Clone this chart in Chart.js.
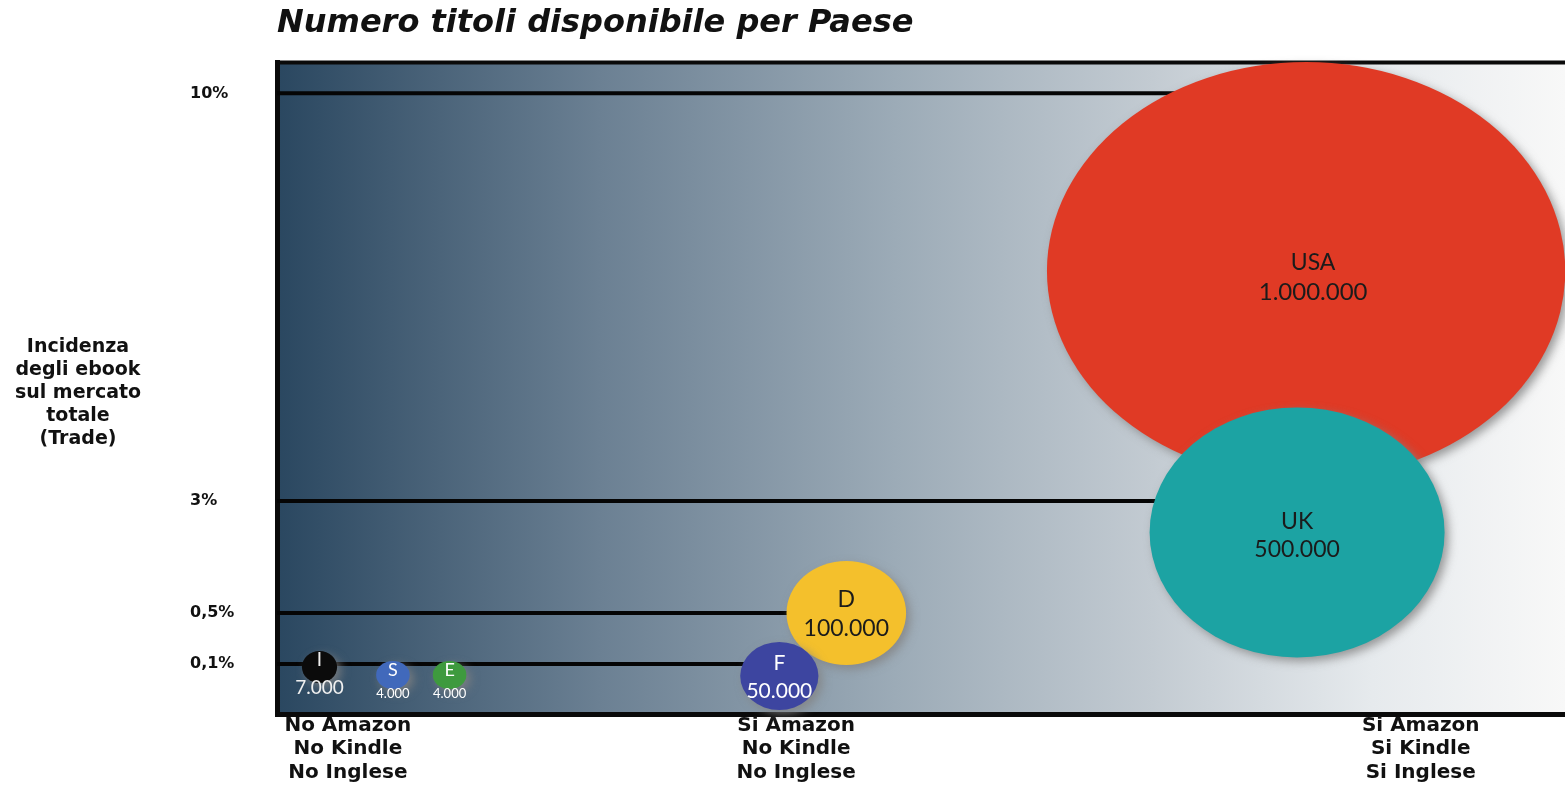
<!DOCTYPE html>
<html lang="it">
<head>
<meta charset="utf-8">
<title>Numero titoli disponibile per Paese</title>
<script src="https://cdn.jsdelivr.net/npm/chart.js"></script>
<style>
  html, body { margin: 0; padding: 0; background: #fff; }
  #wrap { width: 1565px; height: 792px; position: relative; }
</style>
</head>
<body>
<div id="wrap"><canvas id="titoliChart"></canvas></div>
<script>
// Paesi e numero di titoli ebook disponibili
const paesi = ['USA', 'UK', 'D', 'F', 'I', 'S', 'E'];
const titoli = [1000000, 500000, 100000, 50000, 7000, 4000, 4000];
// posizione sull'asse "Amazon / Kindle / Inglese" (0-100)
const accesso = [79.9, 79.2, 44.2, 39.0, 3.3, 9.0, 13.4];
// incidenza degli ebook sul mercato totale (%)
const incidenza = [6.95, 2.3, 0.5, 0.076, 0.094, 0.078, 0.078];
// dimensione della bolla
const dimensione = [209, 125, 52, 34, 16, 14, 14];
const colori = ['#e03a25', '#1ca3a3', '#f4c02c', '#3d45a0', '#0b0b0b', '#4169bb', '#3e9a3e'];

// asse y
const yTickValues = [0.1, 0.5, 3, 10];
const yTickLabels = ['0,1%', '0,5%', '3%', '10%'];
// linee di riferimento: livello -> paese
const livelli = [10, 3, 0.5, 0.1];
const livelloPaese = ['USA', 'UK', 'D', 'F'];

// asse x
const xTickValues = [5.5, 40.3, 88.8];
const xTickLabels = [
  ['No Amazon', 'No Kindle', 'No Inglese'],
  ['Si Amazon', 'No Kindle', 'No Inglese'],
  ['Si Amazon', 'Si Kindle', 'Si Inglese']
];

const yTitle = ['Incidenza', 'degli ebook', 'sul mercato', 'totale', '(Trade)'];

// scala verticale a tratti (il grafico originale non e' lineare)
const Y_BREAKS = [[0, 0], [0.1, 0.0767], [0.5, 0.1549], [3, 0.3267], [10, 0.9525], [10.5, 1]];

class PiecewiseScale extends Chart.LinearScale {
  static id = 'piecewise';
  static defaults = Chart.LinearScale.defaults;

  toDecimal(value) {
    const b = Y_BREAKS;
    if (value <= b[0][0]) return b[0][1];
    for (let i = 1; i < b.length; i++) {
      if (value <= b[i][0]) {
        const [v0, d0] = b[i - 1], [v1, d1] = b[i];
        return d0 + (value - v0) / (v1 - v0) * (d1 - d0);
      }
    }
    return b[b.length - 1][1];
  }

  getPixelForValue(value) {
    return value === null ? NaN : this.getPixelForDecimal(this.toDecimal(value));
  }

  getValueForPixel(pixel) {
    const dec = this.getDecimalForPixel(pixel);
    const b = Y_BREAKS;
    for (let i = 1; i < b.length; i++) {
      if (dec <= b[i][1]) {
        const [v0, d0] = b[i - 1], [v1, d1] = b[i];
        return v0 + (dec - d0) / (d1 - d0) * (v1 - v0);
      }
    }
    return b[b.length - 1][0];
  }
}
Chart.register(PiecewiseScale);

function formatNum(n) {
  return String(n).replace(/\B(?=(\d{3})+(?!\d))/g, '.');
}

// stile delle etichette nelle bolle
const labelStyle = {
  nameSize: [23, 23, 23, 21, 19, 18, 18],
  numSize:  [24, 23, 23, 21, 19, 13, 13],
  nameDy:   [-8, -11, -13, -13, -7, -5, -5],
  numDy:    [21, 17, 16, 15, 21, 19, 19],
  dx:       [7, 0, 0, 0, 0, 0, 0],
  color:    ['#1b1b1b', '#1b1b1b', '#1b1b1b', '#ffffff', '#f0f0f0', '#ffffff', '#ffffff'],
  aspect:   [1.24, 1.18, 1.15, 1.15, 1.1, 1.2, 1.2]
};

const sfondoPlugin = {
  id: 'sfondo',
  beforeDraw(chart) {
    const { ctx, chartArea: a } = chart;
    const g = ctx.createLinearGradient(a.left, 0, a.right, 0);
    g.addColorStop(0, '#2a4760');
    g.addColorStop(0.25, '#6b8093');
    g.addColorStop(0.48, '#9cabb7');
    g.addColorStop(0.68, '#c3cbd2');
    g.addColorStop(0.85, '#e6eaed');
    g.addColorStop(1, '#f8f8f8');
    ctx.save();
    ctx.fillStyle = g;
    ctx.fillRect(a.left, a.top, a.right - a.left, a.bottom - a.top);
    ctx.strokeStyle = '#0a0a0a';
    ctx.lineWidth = 4;
    ctx.beginPath();
    ctx.moveTo(a.left - 2, a.top);
    ctx.lineTo(a.right, a.top);
    ctx.stroke();
    ctx.restore();
  }
};

const bollePlugin = {
  id: 'bolle',
  beforeDatasetDraw(chart, args) {
    if (args.meta.type !== 'bubble') return;
    const ctx = chart.ctx;
    const els = args.meta.data;
    ctx.save();
    els.forEach((el, i) => {
      const r = el.options.radius;
      ctx.save();
      ctx.shadowColor = 'rgba(130,130,130,0.8)';
      ctx.shadowBlur = 10;
      ctx.shadowOffsetX = 4;
      ctx.shadowOffsetY = 4;
      ctx.fillStyle = el.options.backgroundColor;
      ctx.beginPath();
      ctx.ellipse(el.x, el.y, r * labelStyle.aspect[i], r, 0, 0, Math.PI * 2);
      ctx.fill();
      ctx.restore();
    });
    ctx.textAlign = 'center';
    ctx.textBaseline = 'middle';
    els.forEach((el, i) => {
      ctx.fillStyle = labelStyle.color[i];
      const x = el.x + labelStyle.dx[i];
      ctx.font = labelStyle.nameSize[i] + 'px Lato';
      ctx.fillText(paesi[i], x, el.y + labelStyle.nameDy[i]);
      ctx.font = labelStyle.numSize[i] + 'px Lato';
      ctx.fillText(formatNum(titoli[i]), x, el.y + labelStyle.numDy[i]);
    });
    ctx.restore();
    return false;
  }
};

const titoloAssePlugin = {
  id: 'titoloAsse',
  afterDraw(chart) {
    const ctx = chart.ctx;
    ctx.save();
    ctx.fillStyle = '#111';
    ctx.font = 'bold 19px "DejaVu Sans"';
    ctx.textAlign = 'center';
    ctx.textBaseline = 'middle';
    yTitle.forEach((t, i) => ctx.fillText(t, 78, 347 + i * 23));
    ctx.restore();
  }
};

const bubbleData = paesi.map((p, i) => ({ x: accesso[i], y: incidenza[i], r: dimensione[i] }));

const lineDatasets = livelli.map((lv, i) => {
  const k = paesi.indexOf(livelloPaese[i]);
  return {
    type: 'line',
    label: 'livello ' + lv,
    data: [{ x: 0, y: lv }, { x: accesso[k], y: lv }],
    borderColor: '#050505',
    borderWidth: 4,
    pointRadius: 0,
    order: 1
  };
});

const ctx = document.getElementById('titoliChart').getContext('2d');
new Chart(ctx, {
  type: 'bubble',
  data: {
    datasets: [
      {
        label: 'Titoli',
        data: bubbleData,
        backgroundColor: colori,
        borderWidth: 0,
        clip: false,
        order: 0
      },
      ...lineDatasets
    ]
  },
  options: {
    responsive: true,
    maintainAspectRatio: false,
    animation: false,
    events: [],
    layout: { autoPadding: false, padding: { left: 190, right: 0, top: 0, bottom: 0 } },
    plugins: {
      legend: { display: false },
      tooltip: { enabled: false },
      title: {
        display: true,
        text: 'Numero titoli disponibile per Paese',
        align: 'start',
        fullSize: false,
        color: '#111',
        font: { family: '"DejaVu Sans"', size: 32, weight: 'bold', style: 'italic', lineHeight: 1.2 },
        padding: { top: 4, bottom: 20 }
      }
    },
    scales: {
      x: {
        type: 'linear',
        min: 0,
        max: 100,
        grid: { display: false, drawTicks: false },
        border: { display: true, color: '#0a0a0a', width: 5 },
        afterBuildTicks: s => { s.ticks = xTickValues.map(v => ({ value: v })); },
        afterFit: s => { s.height = 78; },
        ticks: {
          autoSkip: false,
          maxRotation: 0,
          padding: 0,
          color: '#111',
          font: { family: '"DejaVu Sans"', size: 20, weight: 'bold', lineHeight: 1.17 },
          callback: (v, i) => xTickLabels[i]
        }
      },
      y: {
        type: 'piecewise',
        min: 0,
        max: 10.5,
        grid: { display: false, drawTicks: false },
        border: { display: true, color: '#0a0a0a', width: 5 },
        afterBuildTicks: s => { s.ticks = yTickValues.map(v => ({ value: v })); },
        afterFit: s => { s.width = 87; },
        ticks: {
          autoSkip: false,
          crossAlign: 'far',
          color: '#111',
          font: { family: '"DejaVu Sans"', size: 16, weight: 'bold' },
          callback: (v, i) => yTickLabels[i]
        }
      }
    }
  },
  plugins: [sfondoPlugin, bollePlugin, titoloAssePlugin]
});
</script>
</body>
</html>
